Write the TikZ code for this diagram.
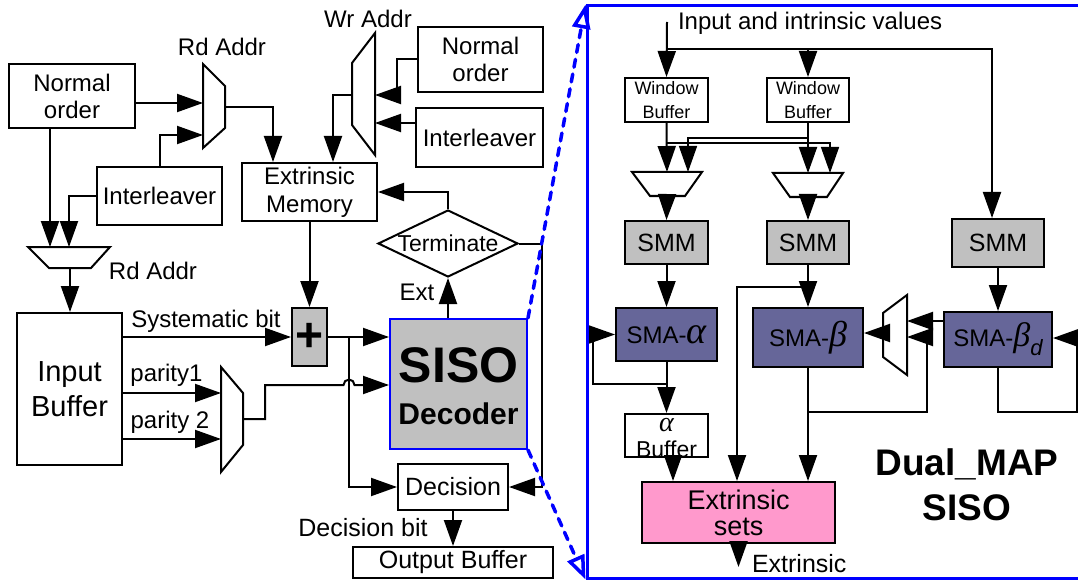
\documentclass[tikz,border=0pt]{standalone}
\usepackage{fontspec}
\setmainfont{Liberation Sans}
\newfontfamily\greekfont{Liberation Serif}
\usetikzlibrary{arrows.meta,shapes.geometric,calc}
\definecolor{boxgray}{HTML}{C0C0C0}
\definecolor{smapurple}{HTML}{666699}
\definecolor{extpink}{HTML}{FF99CC}
\definecolor{zoomblue}{HTML}{0000FF}
\newcommand\setfs[2]{\fontsize{#1}{#2}\selectfont}
\newcommand\gk[2]{{\greekfont\itshape\setfs{#1}{#1}#2}}

\begin{document}
\begin{tikzpicture}[x=1pt,y=-1pt,line width=2pt,
  arr/.style={-{Triangle[length=26pt,width=18pt]}},
  thin/.style={line width=1.5pt},
  openarr/.style={-{Triangle[open,length=24pt,width=18pt]}},
  blk/.style={draw, fill=white, inner sep=0pt, align=center, font=\setfs{24}{27}},
  graybox/.style={blk, fill=boxgray},
  smabox/.style={blk, fill=smapurple},
  mux/.style={draw, fill=white, line join=miter},
  lbl/.style={inner sep=0pt, anchor=base, font=\setfs{24}{27}},
]
\useasboundingbox (0,0) rectangle (1078,580);
\clip (0,0) rectangle (1078,580);

% ---------------- decoder top level ----------------
% read-address multiplexer for the extrinsic memory
\node[blk, minimum width=126pt, minimum height=64pt] (nrmA) at (72,96) {Normal\\order};
\node[blk, minimum width=125pt, minimum height=58pt] (intA) at (159.5,196) {Interleaver};
\draw[mux] (203,64) -- (225,86) -- (225,128) -- (203,148) -- cycle;
\coordinate (rdA1) at (203,103);
\coordinate (rdA2) at (203,135);
\coordinate (rdAo) at (225,107);
\node[lbl] (rdAlbl) at (222,56) {Rd Addr};

% read-address multiplexer for the input buffer
\draw[mux] (28,247) -- (110,247) -- (91,268) -- (49,268) -- cycle;
\coordinate (rdB1) at (50,247);
\coordinate (rdB2) at (69,247);
\coordinate (rdBo) at (70,268);
\node[lbl] (rdBlbl) at (153,279) {Rd Addr};

\node[blk, minimum width=105pt, minimum height=152pt, font=\setfs{29}{35}] (inbuf) at (69.5,389) {Input\\Buffer};
\node[blk, minimum width=135pt, minimum height=58pt, font=\setfs{24}{28}] (exmem) at (309.5,192) {Extrinsic\\Memory};

% write-address multiplexer
\draw[mux] (375,33) -- (375,155) -- (352,125) -- (352,63) -- cycle;
\coordinate (wrA1) at (375,95);
\coordinate (wrA2) at (375,123);
\coordinate (wrAo) at (352,95);
\node[lbl] (wrlbl) at (368,28) {Wr Addr};
\node[blk, minimum width=125pt, minimum height=65pt] (nrmB) at (480.5,59.5) {Normal\\order};
\node[blk, minimum width=127pt, minimum height=59pt] (intB) at (479.5,137.5) {Interleaver};

% adder and parity multiplexer
\node[graybox, minimum width=35pt, minimum height=58pt, font=\setfs{48}{48}\bfseries] (plus) at (309.5,337) {+};
\draw[mux] (221,367) -- (243,393) -- (243,445) -- (221,472) -- cycle;
\coordinate (pin1) at (221,393);
\coordinate (pin2) at (221,439);
\coordinate (pout) at (243,419);
\node[lbl] (sysl) at (206,327) {Systematic bit};
\node[lbl] (p1l) at (166.5,381) {parity1};
\node[lbl] (p2l) at (170,428) {parity 2};

% SISO decoder
\node[blk, draw=zoomblue, fill=boxgray, minimum width=137pt, minimum height=130pt] (siso) at (458.5,384) {};
\node[lbl, font=\setfs{50}{50}\bfseries] (sisot) at (458.5,382) {SISO};
\node[lbl, font=\setfs{30}{30}\bfseries] (dect) at (458.5,424) {Decoder};

\node[draw, diamond, aspect=2.09, minimum width=140pt, minimum height=67pt, inner sep=0pt, fill=white, font=\setfs{23}{26}] (term) at (448,243.5) {Terminate};
\node[blk, minimum width=110pt, minimum height=46pt, font=\setfs{25}{28}] (dec) at (453,487) {Decision};
\node[blk, minimum width=200pt, minimum height=31pt, font=\setfs{25}{28}] (outbuf) at (453,562.5) {Output Buffer};
\node[lbl] (extl) at (417,300) {Ext};
\node[lbl, font=\setfs{25}{28}] (decbl) at (363,536) {Decision bit};

% connections
\draw[arr] (nrmA.east |- rdA1) -- (rdA1);
\draw[arr] (intA.north) |- (rdA2);
\draw[arr] (rdAo) -| ([xshift=-36.5pt]exmem.north);
\draw[arr] (nrmA.south -| rdB1) -- (rdB1);
\draw[arr] (intA.west) -| (rdB2);
\draw[arr] (rdBo) -- (rdBo |- inbuf.north);
\draw[arr] (wrAo) -| ([xshift=23.5pt]exmem.north);
\draw[arr] (nrmB.west) -| ($(wrA1)+(22,0)$) -- (wrA1);
\draw[arr] (intB.west |- wrA2) -- (wrA2);
\draw[arr] (exmem.south) -- (plus.north);
\draw[arr] (inbuf.east |- plus.west) -- (plus.west);
\draw[arr] (inbuf.east |- pin1) -- (pin1);
\draw[arr] (inbuf.east |- pin2) -- (pin2);
\draw[arr] (plus.east) -- (plus.east -| siso.west);
\coordinate (br) at (349,337);
\draw[arr] (br) |- (dec.west);
\draw[arr] (pout) -| (265,385) -- (343.5,385) arc[start angle=180, end angle=0, radius=5.5pt] -- (siso.west |- 0,385);
\draw[arr] (siso.north -| term.south) -- (term.south);
\draw[arr] (term.north) |- (exmem.east);
\coordinate (tr) at (542,243.5);
\draw[arr] (term.east) -- (tr) |- (dec.east);
\draw[arr] (dec.south) -- (outbuf.north);

% ---------------- Dual-MAP SISO detail ----------------
\node[draw=zoomblue, line width=3pt, minimum width=503pt, minimum height=572pt, inner sep=0pt] (panel) at (838.5,292) {};
\draw[zoomblue, line width=3.5pt, dash pattern=on 8pt off 7pt, line cap=round, openarr] (siso.north east) -- (panel.north west);
\draw[zoomblue, line width=3.5pt, dash pattern=on 8pt off 7pt, line cap=round, openarr] (siso.south east) -- (panel.south west);

\node[lbl, anchor=base west] (inl) at (677,30) {Input and intrinsic values};
\node[blk, minimum width=83pt, minimum height=44pt, font=\setfs{18}{24}] (wbA) at (666.5,100) {Window\\Buffer};
\node[blk, minimum width=82pt, minimum height=44pt, font=\setfs{18}{24}] (wbB) at (808,100) {Window\\Buffer};
\draw[mux] (632,172) -- (702,172) -- (685,196) -- (650,196) -- cycle;
\coordinate (mA1) at (667,172);
\coordinate (mA2) at (688,172);
\coordinate (mAo) at (667,196);
\draw[mux] (773,173) -- (843,173) -- (827,197) -- (790,197) -- cycle;
\coordinate (mB1) at (808,173);
\coordinate (mB2) at (830,173);
\coordinate (mBo) at (808,197);

\node[graybox, minimum width=83pt, minimum height=43pt, font=\setfs{25}{28}] (smmA) at (666.5,242.5) {SMM};
\node[graybox, minimum width=82pt, minimum height=43pt, font=\setfs{25}{28}] (smmB) at (808,242.5) {SMM};
\node[graybox, minimum width=92pt, minimum height=48pt, font=\setfs{25}{28}] (smmC) at (998,243) {SMM};

\node[smabox, minimum width=101pt, minimum height=53pt] (smaA) at (666.5,334.5) {SMA-\gk{38}{α}};
\node[smabox, minimum width=110pt, minimum height=59pt] (smaB) at (808,337.5) {SMA-\gk{36}{β}};
\node[smabox, minimum width=108pt, minimum height=55pt] (smaD) at (998,339.5) {SMA-\gk{34}{β}\raisebox{-9pt}{\itshape\setfs{22}{22}d}};

\draw[mux] (907,295) -- (907,375) -- (883,357) -- (883,313) -- cycle;
\coordinate (bm1) at (907,321);
\coordinate (bm2) at (907,337);
\coordinate (bmo) at (883,333);

\node[blk, minimum width=83pt, minimum height=43pt] (abuf) at (666.5,435.5) {};
\node[lbl] (abufa) at (666.5,431) {\gk{28}{α}};
\node[lbl, font=\setfs{23}{23}] (abufb) at (666.5,457) {Buffer};

\node[blk, fill=extpink, minimum width=193pt, minimum height=61pt, font=\setfs{27}{26}] (exsets) at (738.5,512.5) {Extrinsic\\sets};
\coordinate (extout) at (738.5,567);
\node[lbl, anchor=base west, font=\setfs{25}{28}] (extoutl) at (751,572) {Extrinsic};

\node[inner sep=0pt, align=center, font=\setfs{37}{45}\bfseries] (dm) at (967,485) {Dual\_MAP\\SISO};

% connections inside the detail
\coordinate (inp) at (667,22);
\draw[arr] (inp) -- (wbA.north);
\draw[arr] (wbA.north |- 0,49) -| ([xshift=-6pt]smmC.north);
\draw[arr] (wbB.north |- 0,49) -- (wbB.north);
\draw[arr] (wbA.south) -- (mA1);
\draw[arr] (wbB.south) -- (mB1);
\draw[arr, thin] (wbA.south |- 0,143) -| (mB2);
\draw[arr, thin] (wbB.south |- 0,138) -| (mA2);
\draw[arr] (mAo) -- (smmA.north);
\draw[arr] (mBo) -- (smmB.north);
\draw[arr] (smmA.south) -- (smaA.north);
\draw[arr] (smmB.south) -- (smaB.north);
\draw[arr] (smmC.south) -- (smaD.north);
\draw[arr, thin] (smaA.south |- 0,384) -| ($(smaA.west)+(-22,0)$) -- (smaA.west);
\draw[arr] (smaA.south) -- (abuf.north);
\draw[arr] ([xshift=6.5pt]abuf.south) -- ([xshift=6.5pt]abuf.south |- exsets.north);
\draw[arr] (smaB.north |- 0,287) -| ([xshift=-1.5pt]exsets.north);
\draw[arr] (smaB.south) -- (smaB.south |- exsets.north);
\draw[arr] (smaB.south |- 0,412) -| ($(bm2)+(20,0)$) -- (bm2);
\draw[arr] (smaD.west |- bm1) -- (bm1);
\draw[arr] (bmo) -- (bmo -| smaB.east);
\draw[arr] (smaD.south) -- (smaD.south |- 0,412) -| (1077,338) -- (smaD.east |- 0,338);
\draw[arr] (exsets.south) -- (extout);
\end{tikzpicture}
\end{document}
